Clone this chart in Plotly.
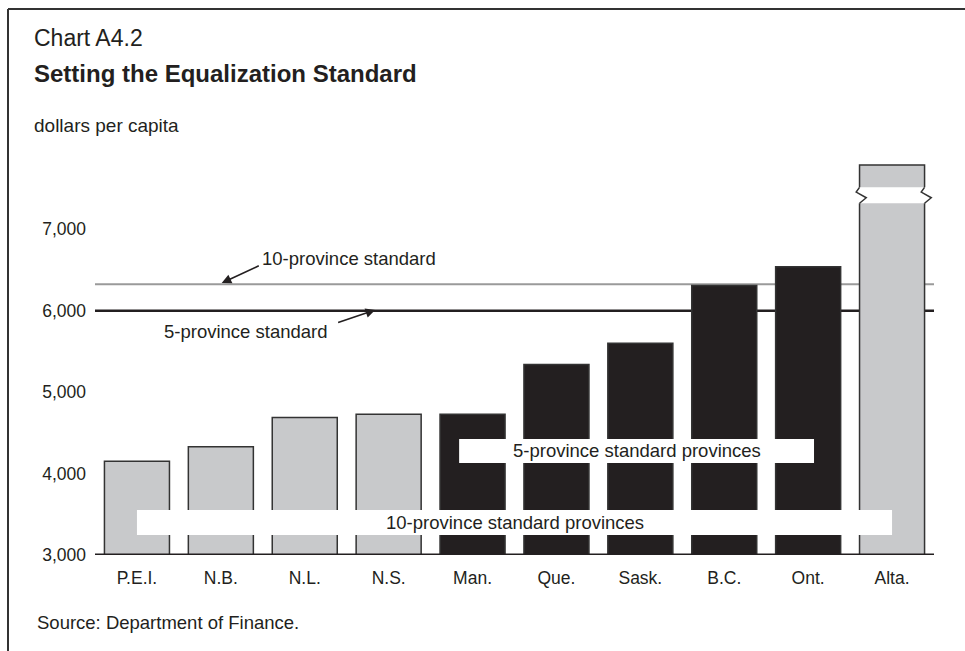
import plotly.graph_objects as go

# Provinces, fiscal capacity per capita, and the standard each belongs to
provinces = ["P.E.I.", "N.B.", "N.L.", "N.S.", "Man.", "Que.", "Sask.", "B.C.", "Ont.", "Alta."]
capacity = [4150, 4330, 4690, 4730, 4730, 5340, 5600, 6310, 6540, 7790]
in_five_province = [False, False, False, False, True, True, True, True, True, False]

ten_province_standard = 6325
five_province_standard = 6000
y_ticks = [3000, 4000, 5000, 6000, 7000]

# Alta. bar is drawn with an axis break between these two values
break_low, break_high = 7320, 7515

W, H = 965, 651
L, R, T, B = 95, 31, 156, 96
PW, PH = W - L - R, H - T - B
Y_MIN, Y_MAX = 3000, 7900

INK = "#231f20"
GREY_BAR = "#c8c9cb"
FONT = "Liberation Sans, Arial, Helvetica, sans-serif"


def px(x):
    return (x - L) / PW


def py(y):
    return (H - B - y) / PH


x_idx = list(range(len(provinces)))
colors = [INK if f else GREY_BAR for f in in_five_province]
BAR_GAP = 0.225
half = (1 - BAR_GAP) / 2

fig = go.Figure()
fig.add_trace(go.Bar(
    x=x_idx, y=[v - Y_MIN for v in capacity], base=Y_MIN,
    marker=dict(color=colors, line=dict(color="#333333", width=1.5)),
    hoverinfo="skip", showlegend=False,
))

shapes = []
# standard lines (beneath the bars)
shapes.append(dict(type="line", xref="x", yref="y", x0=-0.5, x1=len(provinces) - 0.5,
                   y0=ten_province_standard, y1=ten_province_standard,
                   line=dict(color="#9a9a9a", width=2), layer="below"))
shapes.append(dict(type="line", xref="x", yref="y", x0=-0.5, x1=len(provinces) - 0.5,
                   y0=five_province_standard, y1=five_province_standard,
                   line=dict(color=INK, width=2.5), layer="below"))

# axis break on the tallest bar
ia = provinces.index("Alta.")
shapes.append(dict(type="rect", xref="x", yref="y",
                   x0=ia - half - 0.03, x1=ia + half + 0.03, y0=break_low, y1=break_high,
                   fillcolor="white", line=dict(width=0), layer="above"))
dx = 0.08
ymid = (break_low + break_high) / 2
for edge in (ia - half, ia + half):
    path = (f"M {edge},{break_high} L {edge - dx * 0.5},{ymid + 40} "
            f"L {edge + dx},{ymid - 30} L {edge},{break_low}")
    shapes.append(dict(type="path", xref="x", yref="y", path=path,
                       line=dict(color="#333333", width=1.5), layer="above"))

# white label bands across the bars
shapes.append(dict(type="rect", xref="x", yref="y", x0=3.84, x1=8.07, y0=4130, y1=4425,
                   fillcolor="white", line=dict(width=0), layer="above"))
shapes.append(dict(type="rect", xref="x", yref="y", x0=0.0, x1=9.0, y0=3245, y1=3552,
                   fillcolor="white", line=dict(width=0), layer="above"))

# outer frame: top and left rules
shapes.append(dict(type="line", xref="paper", yref="paper", x0=px(8), x1=px(W + 5),
                   y0=py(9), y1=py(9), line=dict(color="#333333", width=2)))
shapes.append(dict(type="line", xref="paper", yref="paper", x0=px(8), x1=px(8),
                   y0=py(9), y1=py(H + 5), line=dict(color="#333333", width=2)))

text_font = dict(family=FONT, size=18.5, color=INK)
annotations = [
    dict(xref="paper", yref="paper", x=px(32), y=py(38), text="Chart A4.2",
         showarrow=False, xanchor="left", yanchor="middle",
         font=dict(family=FONT, size=23, color=INK)),
    dict(xref="paper", yref="paper", x=px(32), y=py(74), text="<b>Setting the Equalization Standard</b>",
         showarrow=False, xanchor="left", yanchor="middle",
         font=dict(family=FONT, size=24, color=INK)),
    dict(xref="paper", yref="paper", x=px(32), y=py(126), text="dollars per capita",
         showarrow=False, xanchor="left", yanchor="middle",
         font=dict(family=FONT, size=19, color=INK)),
    dict(xref="paper", yref="paper", x=px(35), y=py(622), text="Source: Department of Finance.",
         showarrow=False, xanchor="left", yanchor="middle", font=text_font),
    dict(xref="x", yref="y", x=1.47, y=6644, text="10-province standard",
         showarrow=False, xanchor="left", yanchor="middle", font=text_font),
    dict(xref="x", yref="y", x=1.01, y=ten_province_standard + 15, ax=1.47, ay=6560,
         axref="x", ayref="y", text="", showarrow=True, arrowhead=2, arrowsize=1.2,
         arrowwidth=1.6, arrowcolor=INK, standoff=0, startstandoff=0),
    dict(xref="x", yref="y", x=1.30, y=5748, text="5-province standard",
         showarrow=False, xanchor="center", yanchor="middle", font=text_font),
    dict(xref="x", yref="y", x=2.84, y=five_province_standard + 10, ax=2.38, ay=5850,
         axref="x", ayref="y", text="", showarrow=True, arrowhead=2, arrowsize=1.2,
         arrowwidth=1.6, arrowcolor=INK, standoff=0, startstandoff=0),
    dict(xref="x", yref="y", x=(3.84 + 8.07) / 2, y=(4130 + 4425) / 2,
         text="5-province standard provinces", showarrow=False,
         xanchor="center", yanchor="middle", font=text_font),
    dict(xref="x", yref="y", x=4.5, y=(3245 + 3552) / 2,
         text="10-province standard provinces", showarrow=False,
         xanchor="center", yanchor="middle", font=text_font),
]

fig.update_layout(
    width=W, height=H,
    margin=dict(l=L, r=R, t=T, b=B, pad=0),
    paper_bgcolor="white", plot_bgcolor="white",
    bargap=BAR_GAP,
    shapes=shapes, annotations=annotations,
    font=dict(family=FONT, size=18, color=INK),
    xaxis=dict(
        range=[-0.5, len(provinces) - 0.5], tickmode="array",
        tickvals=x_idx, ticktext=provinces,
        showgrid=False, zeroline=False, ticks="",
        showline=False, ticklabelstandoff=10,
        tickfont=dict(family=FONT, size=17.5, color=INK),
        fixedrange=True,
    ),
    yaxis=dict(
        range=[Y_MIN, Y_MAX], tickmode="array", tickvals=y_ticks,
        tickformat=",d", showgrid=False, zeroline=False, ticks="",
        showline=False, ticklabelstandoff=8,
        tickfont=dict(family=FONT, size=17.5, color=INK), fixedrange=True,
    ),
)

# thick base rule along the 3,000 level
fig.add_shape(type="line", xref="x", yref="y", x0=-0.5, x1=len(provinces) - 0.5,
              y0=Y_MIN, y1=Y_MIN, line=dict(color=INK, width=3), layer="above")

fig.write_html("out.html")
